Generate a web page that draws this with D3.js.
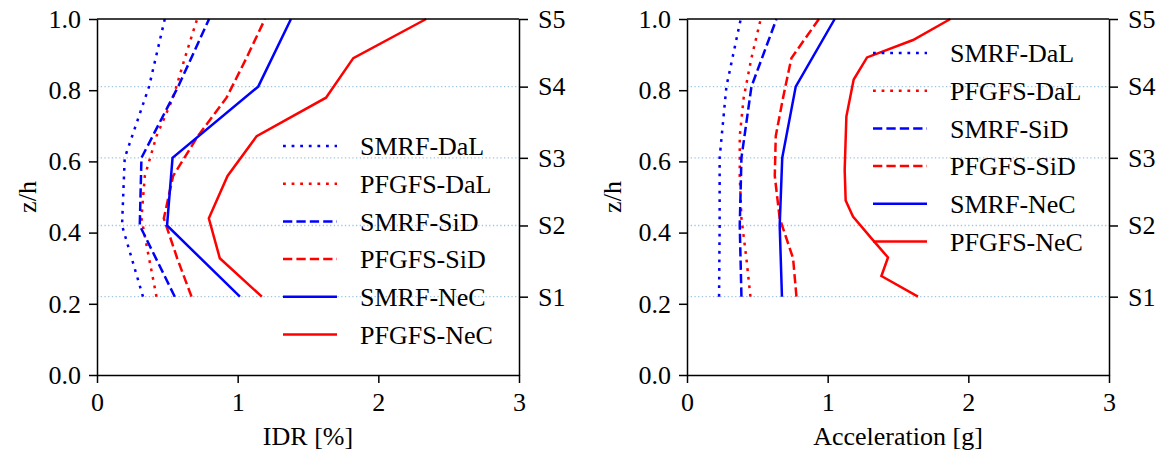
<!DOCTYPE html>
<html><head><meta charset="utf-8">
<script src="https://cdn.jsdelivr.net/npm/d3@7"></script>
<style>
body{margin:0;background:#fff;}
svg{display:block;}
svg text{font-family:"Liberation Serif","Times New Roman",Times,"DejaVu Serif",serif !important;fill:#000;}
</style></head>
<body>
<svg id="c" width="1162" height="454"></svg>
<script>
// ---- data ----
const storyZ = [0.22, 0.42, 0.61, 0.81, 1.0];
const storyLabels = ["S1", "S2", "S3", "S4", "S5"];
const pfgfsZ = [0.22, 0.328, 0.44, 0.559, 0.671, 0.779, 0.89, 1.0];
const pfgfsNeCAccZ = [0.22, 0.278, 0.33, 0.379, 0.445, 0.49, 0.576, 0.726, 0.83, 0.892, 0.941, 1.0];
const xTicks = [0, 1, 2, 3];
const yTicks = [0, 0.2, 0.4, 0.6, 0.8, 1.0];
const seriesNames = ["SMRF-DaL", "PFGFS-DaL", "SMRF-SiD", "PFGFS-SiD", "SMRF-NeC", "PFGFS-NeC"];

// IDR [%]
const idrSMRFDaL = [0.327, 0.178, 0.197, 0.370, 0.482];
const idrPFGFSDaL = [0.423, 0.370, 0.316, 0.340, 0.423, 0.541, 0.624, 0.712];
const idrSMRFSiD = [0.553, 0.304, 0.316, 0.577, 0.797];
const idrPFGFSSiD = [0.672, 0.570, 0.475, 0.541, 0.717, 0.921, 1.062, 1.194];
const idrSMRFNeC = [1.016, 0.498, 0.537, 1.146, 1.379];
const idrPFGFSNeC = [1.172, 0.873, 0.795, 0.928, 1.135, 1.628, 1.822, 2.340];

// Acceleration [g]
const accSMRFDaL = [0.228, 0.232, 0.232, 0.280, 0.382];
const accPFGFSDaL = [0.451, 0.422, 0.387, 0.375, 0.375, 0.403, 0.458, 0.524];
const accSMRFSiD = [0.387, 0.375, 0.387, 0.458, 0.636];
const accPFGFSSiD = [0.778, 0.754, 0.659, 0.624, 0.631, 0.683, 0.742, 0.938];
const accSMRFNeC = [0.675, 0.659, 0.677, 0.773, 1.050];
const accPFGFSNeC = [1.642, 1.382, 1.429, 1.322, 1.180, 1.128, 1.121, 1.133, 1.185, 1.280, 1.607, 1.872];

// ---- styles ----
const BLUE = "#0000ff", RED = "#ff0000";
const DOT = "2.8,5.8", DASH = "9.3,4.1";
const styles = [
  {color: BLUE, dash: DOT}, {color: RED, dash: DOT},
  {color: BLUE, dash: DASH}, {color: RED, dash: DASH},
  {color: BLUE, dash: null}, {color: RED, dash: null}
];

const svg = d3.select("#c");
const FS = 26;
const FONT = '"Liberation Serif","Times New Roman",Times,"DejaVu Serif",serif';

function zip(xs, zs){ return xs.map((v,i)=>({x:v, z:zs[i]})); }

function panel(opt){
  const x = d3.scaleLinear().domain([0,3]).range([opt.x0, opt.x1]);
  const y = d3.scaleLinear().domain([0,1]).range([375, 19]);
  const g = svg.append("g");

  // gridlines at story levels
  g.selectAll("line.grid").data(storyZ.slice(0,4)).enter().append("line")
    .attr("x1", opt.x0).attr("x2", opt.x1)
    .attr("y1", d=>y(d)).attr("y2", d=>y(d))
    .attr("stroke", "#9fc5df").attr("stroke-width", 1.3)
    .attr("stroke-dasharray", "1.3,2.4");

  // data lines
  const line = d3.line().x(d=>x(d.x)).y(d=>y(d.z));
  opt.series.forEach((s,i)=>{
    g.append("path").datum(zip(s.v, s.z))
      .attr("d", line).attr("fill","none")
      .attr("stroke", styles[i].color).attr("stroke-width", 2.5)
      .attr("stroke-dasharray", styles[i].dash);
  });

  // axes
  const ax = g.append("g").attr("transform", "translate(0,375)")
    .call(d3.axisBottom(x).tickValues(xTicks).tickFormat(d3.format("d")).tickSize(8).tickSizeOuter(0).tickPadding(10));
  const ay = g.append("g").attr("transform", `translate(${opt.x0},0)`)
    .call(d3.axisLeft(y).tickValues(yTicks).tickFormat(d3.format(".1f")).tickSize(8).tickSizeOuter(0).tickPadding(8));
  const ar = g.append("g").attr("transform", `translate(${opt.x1},0)`)
    .call(d3.axisRight(y).tickValues(storyZ).tickFormat((d,i)=>storyLabels[i]).tickSize(9).tickSizeOuter(0).tickPadding(10));
  g.append("line").attr("x1", opt.x0).attr("x2", opt.x1).attr("y1", 19).attr("y2", 19)
    .attr("stroke", "#000").attr("stroke-width", 1.5);
  [ax, ay, ar].forEach(a=>{
    a.attr("font-family", FONT).attr("font-size", FS);
    a.selectAll("path.domain").attr("stroke-width", 1.5);
    a.selectAll(".tick line").attr("stroke-width", 1.5);
    a.selectAll("text").attr("font-size", FS).style("font-family", FONT);
  });

  // axis titles
  g.append("text").attr("x", (opt.x0+opt.x1)/2).attr("y", 445)
    .attr("text-anchor", "middle").attr("font-size", FS).style("font-family", FONT).text(opt.xlabel);
  g.append("text").attr("transform", `translate(${opt.ylx},197) rotate(-90)`)
    .attr("text-anchor", "middle").attr("font-size", FS).style("font-family", FONT).text("z/h");

  // legend
  const lg = g.append("g");
  seriesNames.forEach((n,i)=>{
    const yy = opt.legY + i*37.7;
    lg.append("line").attr("x1", opt.legX).attr("x2", opt.legX+54)
      .attr("y1", yy).attr("y2", yy)
      .attr("stroke", styles[i].color).attr("stroke-width", 2.5)
      .attr("stroke-dasharray", styles[i].dash);
    lg.append("text").attr("x", opt.legX+77).attr("y", yy).attr("dy", "0.35em")
      .attr("font-size", FS).style("font-family", FONT).text(n);
  });
}

panel({
  x0: 97, x1: 519, xlabel: "IDR [%]", ylx: 36, legX: 283, legY: 146,
  series: [
    {v: idrSMRFDaL, z: storyZ}, {v: idrPFGFSDaL, z: pfgfsZ},
    {v: idrSMRFSiD, z: storyZ}, {v: idrPFGFSSiD, z: pfgfsZ},
    {v: idrSMRFNeC, z: storyZ}, {v: idrPFGFSNeC, z: pfgfsZ}
  ]
});
panel({
  x0: 687, x1: 1109, xlabel: "Acceleration [g]", ylx: 621, legX: 873, legY: 53,
  series: [
    {v: accSMRFDaL, z: storyZ}, {v: accPFGFSDaL, z: pfgfsZ},
    {v: accSMRFSiD, z: storyZ}, {v: accPFGFSSiD, z: pfgfsZ},
    {v: accSMRFNeC, z: storyZ}, {v: accPFGFSNeC, z: pfgfsNeCAccZ}
  ]
});
</script>
</body></html>
